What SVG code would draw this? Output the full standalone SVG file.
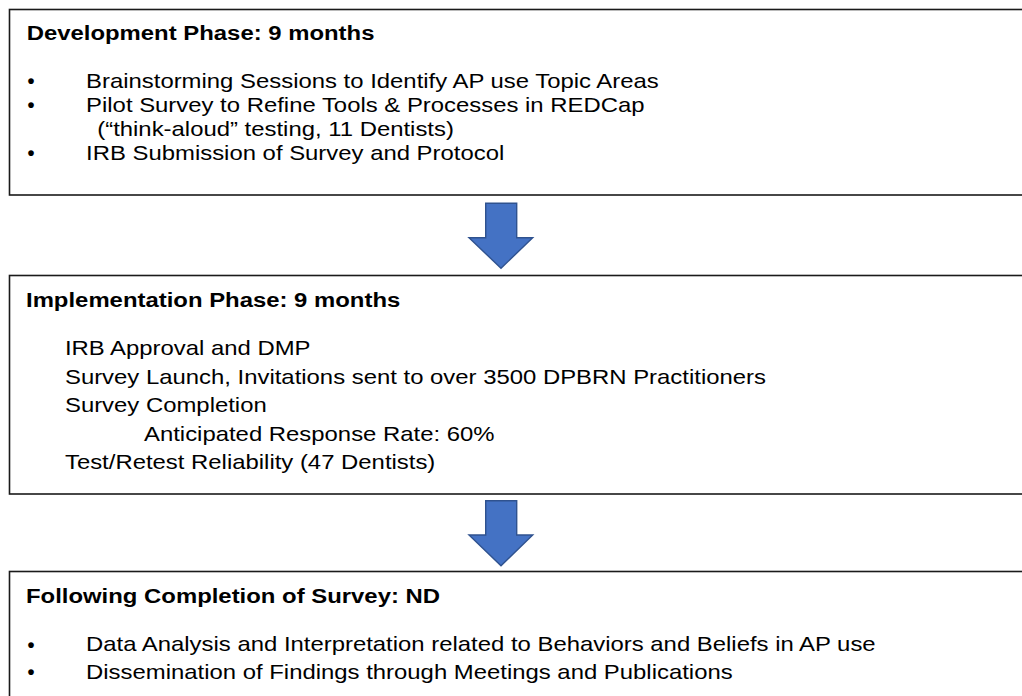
<svg xmlns="http://www.w3.org/2000/svg" width="1022" height="696" viewBox="0 0 1022 696">
  <defs>
    <style>
      .box { fill: #ffffff; stroke: #1a1a1a; stroke-width: 1.6; }
      .arrow { fill: #4472C4; stroke: #2F528F; stroke-width: 1.4; stroke-linejoin: miter; }
      .t { font-family: "Liberation Sans", Arial, Helvetica, sans-serif; font-size: 20.5px; fill: #000; }
      .h { font-weight: bold; }
      .b { font-family: "Liberation Sans", Arial, sans-serif; font-size: 20px; font-weight: bold; fill: #000; text-anchor: middle; }
    </style>
  </defs>
  <rect width="1022" height="696" fill="#ffffff"/>

  <!-- Phase 1 -->
  <g id="development-phase">
    <rect class="box" x="9.5" y="9.5" width="1030" height="185.5"/>
    <text class="b" x="31" y="88">•</text>
    <text class="b" x="31" y="112">•</text>
    <text class="b" x="31" y="160">•</text>
    <g transform="scale(1.166 1)">
      <text class="t h" x="22.9" y="40.3">Development Phase: 9 months</text>
      <text class="t" x="73.8" y="88">Brainstorming Sessions to Identify AP use Topic Areas</text>
      <text class="t" x="73.8" y="112">Pilot Survey to Refine Tools &amp; Processes in REDCap</text>
      <text class="t" x="83.4" y="136">(“think-aloud” testing, 11 Dentists)</text>
      <text class="t" x="73.8" y="160">IRB Submission of Survey and Protocol</text>
    </g>
  </g>

  <!-- Phase 2 -->
  <g id="implementation-phase">
    <rect class="box" x="9.5" y="275.5" width="1030" height="218.5"/>
    <g transform="scale(1.166 1)">
      <text class="t h" x="22.3" y="306.7">Implementation Phase: 9 months</text>
      <text class="t" x="55.7" y="355">IRB Approval and DMP</text>
      <text class="t" x="55.7" y="383.6">Survey Launch, Invitations sent to over 3500 DPBRN Practitioners</text>
      <text class="t" x="55.7" y="412.3">Survey Completion</text>
      <text class="t" x="123.5" y="441">Anticipated Response Rate: 60%</text>
      <text class="t" x="55.7" y="469.5">Test/Retest Reliability (47 Dentists)</text>
    </g>
  </g>

  <!-- Phase 3 -->
  <g id="following-completion">
    <rect class="box" x="9.5" y="571.5" width="1030" height="140"/>
    <text class="b" x="31" y="651.5">•</text>
    <text class="b" x="31" y="679.3">•</text>
    <g transform="scale(1.166 1)">
      <text class="t h" x="22.3" y="603.3">Following Completion of Survey: ND</text>
      <text class="t" x="73.8" y="651.5">Data Analysis and Interpretation related to Behaviors and Beliefs in AP use</text>
      <text class="t" x="73.8" y="679.3">Dissemination of Findings through Meetings and Publications</text>
    </g>
  </g>

  <!-- Connectors -->
  <g id="connectors">
    <path class="arrow" d="M485.7 203.3 H516.7 V237.7 H532.7 L501 268.3 L469 237.7 H485.7 Z"/>
    <path class="arrow" d="M485.7 500.7 H516.7 V535 H532.7 L501 565.7 L469 535 H485.7 Z"/>
  </g>
</svg>
